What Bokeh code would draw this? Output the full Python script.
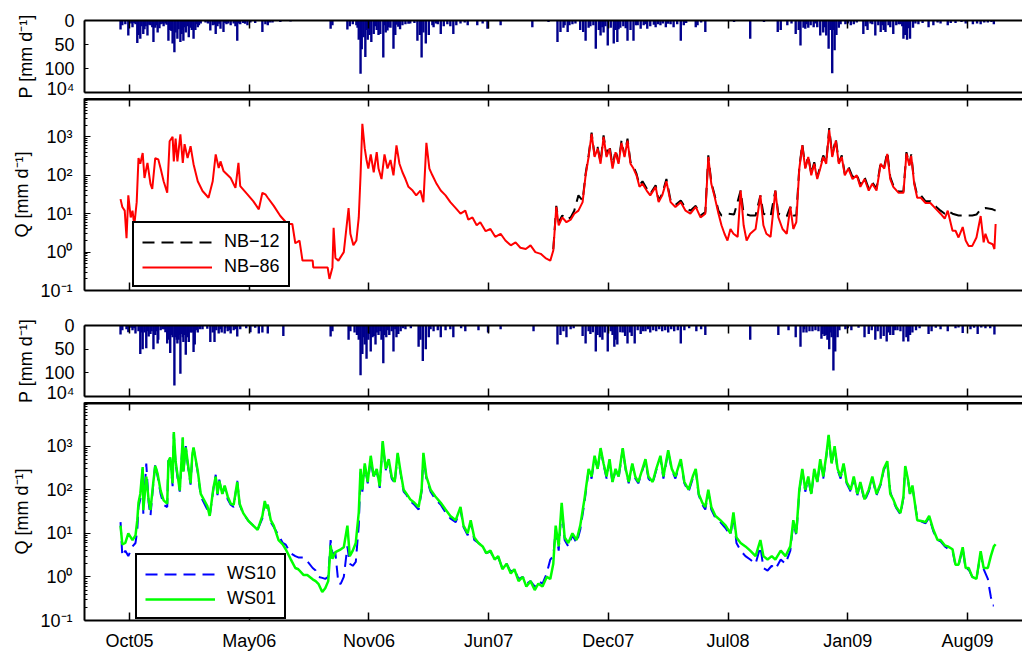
from bokeh.plotting import figure
from bokeh.models import (Range1d, LinearAxis, FixedTicker, CustomJSTickFormatter,
                          CustomLabelingPolicy, Legend, LegendItem)
from bokeh.layouts import column
from bokeh.embed import file_html
from bokeh.resources import INLINE

# ---------------- data (days since 12 Oct 2005) ----------------
tick_days = [0, 200, 400, 600, 800, 1000, 1200, 1400]
tick_labels = ["Oct05", "May06", "Nov06", "Jun07", "Dec07", "Jul08", "Jan09", "Aug09"]

p_nb_day = [-15, -12, -7, -2, 5, 10, 13, 15, 18, 23, 27, 30, 35, 40, 43, 47, 52, 57, 60, 65, 68, 72, 75, 77,
            80, 82, 85, 89, 90, 94, 99, 102, 107, 110, 114, 119, 127, 135, 139, 144, 147, 152, 157, 162, 169,
            174, 180, 185, 190, 197, 202, 222, 227, 231, 239, 252, 269, 336, 339, 364, 368, 373, 379, 383,
            386, 388, 391, 394, 398, 401, 404, 408, 413, 416, 419, 424, 428, 431, 436, 441, 444, 449, 456,
            461, 469, 481, 485, 488, 491, 495, 500, 508, 515, 520, 525, 531, 541, 546, 553, 565, 581, 598,
            620, 673, 715, 720, 725, 732, 735, 753, 758, 762, 767, 779, 784, 787, 792, 799, 804, 809, 815,
            820, 832, 837, 842, 849, 854, 859, 865, 870, 879, 887, 896, 904, 909, 921, 926, 946, 949, 962,
            1037, 1083, 1088, 1099, 1113, 1118, 1121, 1126, 1129, 1134, 1143, 1149, 1154, 1159, 1164, 1168,
            1171, 1174, 1178, 1181, 1185, 1196, 1205, 1210, 1226, 1233, 1241, 1246, 1251, 1255, 1260, 1263,
            1268, 1276, 1281, 1288, 1293, 1296, 1299, 1304, 1309, 1318, 1335, 1343, 1355, 1367, 1380, 1397,
            1409, 1416, 1422, 1434, 1444,
            3, 8, 20, 25, 33, 38, 45, 50, 55, 62, 70, 87, 92, 97, 104, 112, 116, 131, 142, 150, 160, 165, 177,
            183, 193, 210, 235, 381, 396, 410, 426, 433, 446, 452, 466, 476, 506, 512, 536, 560, 590, 700, 727,
            740, 745, 770, 775, 790, 795, 812, 817, 825, 829, 846, 862, 876, 883, 891, 900, 915, 930, 955,
            1010, 1060, 1106, 1131, 1138, 1146, 1162, 1176, 1188, 1200, 1215, 1230, 1238, 1258, 1271, 1285,
            1291, 1302, 1313, 1325, 1350, 1372, 1390, 1428, 1440]
p_nb_mm = [19, 10, 8, 31, 14, 8, 47, 30, 38, 28, 12, 31, 10, 45, 15, 25, 8, 12, 6, 42, 20, 48, 66, 25,
           38, 18, 45, 20, 42, 25, 35, 15, 38, 20, 14, 6, 4, 21, 10, 28, 12, 17, 24, 8, 10,
           6, 42, 8, 5, 10, 4, 24, 8, 10, 4, 3, 2, 17, 10, 19, 12, 8, 10, 40,
           111, 60, 35, 76, 40, 30, 45, 28, 20, 30, 28, 77, 25, 21, 15, 59, 30, 13, 10,
           8, 6, 42, 30, 77, 25, 48, 30, 14, 8, 28, 12, 8, 28, 10, 6, 10, 10, 17,
           10, 14, 45, 24, 15, 24, 10, 20, 24, 42, 15, 59, 20, 31, 25, 52, 15, 48, 45,
           15, 42, 20, 42, 10, 17, 10, 17, 12, 14, 10, 14, 8, 14, 42, 10, 14, 10, 24,
           38, 24, 20, 10, 28, 20, 52, 15, 17, 15, 14, 14, 31, 25, 31, 59,
           20, 110, 62, 30, 15, 8, 10, 8, 28, 20, 8, 31, 10, 24, 20, 24,
           10, 28, 10, 8, 38, 30, 40, 38, 15, 8, 14, 10, 6, 10, 5, 6,
           8, 6, 8, 4, 8,
           6, 5, 12, 18, 9, 14, 10, 16, 7, 9, 22, 28, 14, 12, 20, 8, 10, 6, 9, 7, 5, 6, 12,
           6, 7, 5, 4, 15, 20, 12, 10, 14, 9, 18, 7, 5, 10, 6, 12, 4, 6, 3, 10,
           8, 6, 12, 10, 14, 12, 20, 18, 12, 16, 10, 8, 9, 8, 6, 7, 8, 5, 4,
           3, 3, 6, 8, 10, 6, 14, 20, 8, 6, 4, 12, 6, 10, 14, 8,
           12, 16, 6, 5, 4, 5, 3, 4, 3]

nb86_day = [-15, -12, -8, -5, -2, 2, 5, 8, 12, 15, 18, 22, 25, 30, 35, 38, 43, 48, 52, 57, 63, 67, 72, 74,
            77, 80, 85, 89, 92, 97, 102, 107, 114, 122, 132, 139, 144, 149, 152, 157, 169, 177, 182, 185,
            197, 207, 216, 222, 227, 231, 241, 252, 264, 272, 277, 284, 289, 306, 307, 331, 334, 339, 341,
            344, 349, 358, 366, 369, 374, 379, 383, 386, 389, 393, 396, 399, 403, 408, 413, 416, 421, 426,
            431, 436, 441, 446, 451, 456, 461, 466, 473, 479, 486, 491, 496, 501, 506, 513, 520, 528, 536,
            545, 553, 561, 566, 573, 580, 586, 595, 603, 611, 620, 628, 637, 645, 653, 662, 670, 678, 687,
            695, 703, 708, 713, 717, 723, 730, 737, 743, 750, 757, 762, 767, 772, 777, 782, 787, 792, 797,
            802, 807, 812, 817, 822, 827, 832, 837, 842, 847, 852, 857, 864, 870, 879, 884, 890, 897, 904,
            912, 921, 929, 937, 946, 954, 962, 967, 972, 977, 984, 989, 994, 999, 1004, 1009, 1016, 1021,
            1026, 1031, 1037, 1046, 1054, 1059, 1064, 1071, 1079, 1084, 1091, 1098, 1104, 1109, 1114, 1119,
            1124, 1129, 1134, 1139, 1144, 1149, 1154, 1159, 1164, 1169, 1174, 1180, 1185, 1190, 1195, 1201,
            1208, 1215, 1221, 1228, 1235, 1241, 1248, 1255, 1261, 1266, 1271, 1276, 1285, 1293, 1298, 1303,
            1306, 1311, 1316, 1322, 1330, 1338, 1348, 1355, 1362, 1367, 1375, 1380, 1385, 1392, 1397, 1402,
            1408, 1415, 1422, 1427, 1430, 1435, 1442, 1445, 1447]
nb86_q = [24, 15, 12, 2.3, 30, 8, 12, 5, 20, 280, 200, 380, 85, 210, 60, 44, 280, 260, 150, 70, 35, 770, 1000, 230,
          900, 230, 1170, 210, 650, 280, 570, 195, 70, 39, 26, 70, 350, 155, 230, 130, 85, 47, 210, 52,
          32, 21, 13, 35, 32, 26, 16, 8.7, 5.4, 5.4, 1.7, 2.0, 0.6, 0.6, 0.4, 0.4, 0.2, 0.4, 4.3,
          0.7, 0.6, 1.0, 14, 3, 1.5, 2, 8, 100, 2200, 500, 250, 150, 350, 120, 400, 150, 80, 350,
          150, 250, 100, 600, 200, 120, 80, 50, 40, 30, 40, 20, 700, 150, 100, 60, 40, 30, 20,
          14, 10, 12, 7, 8, 5, 6, 3.5, 4, 2.5, 3, 2, 1.5, 1.8, 1.3, 1.2, 1.5, 1.0, 0.9,
          0.7, 0.6, 1.1, 15, 5, 8, 6, 7, 10, 12, 20, 100, 300, 1200, 300, 500, 200, 1000, 300,
          500, 150, 400, 200, 700, 300, 800, 200, 150, 100, 50, 60, 40, 30, 50, 20, 30, 70, 20,
          15, 20, 12, 10, 15, 8, 10, 300, 60, 30, 10, 5, 3, 2, 4, 3, 2.5, 40,
          5, 2, 3, 4, 30, 5, 3, 2.5, 40, 8, 4, 3, 15, 4, 6, 150,
          600, 150, 300, 100, 200, 80, 150, 300, 200, 1500, 300, 800, 200, 300, 100, 150,
          80, 100, 50, 80, 40, 60, 40, 200, 150, 360, 80, 50, 35, 35, 370, 178,
          320, 60, 26, 26, 19, 19, 13, 10, 7.4, 12, 3.6, 3.6, 2.4, 4.5, 2.0, 1.45,
          1.45, 2.4, 8.7, 1.8, 3.0, 1.8, 1.6, 1.2, 5.4]

nb12_day = [708, 713, 717, 723, 730, 737, 743, 750, 757, 762, 767, 772, 777, 782, 787, 792, 797, 802, 807,
            812, 817, 822, 827, 832, 837, 842, 847, 852, 857, 864, 870, 879, 884, 890, 897, 904, 912, 921,
            929, 937, 946, 954, 962, 967, 972, 977, 984, 989, 1000, 1010, 1021, 1026, 1037, 1046, 1054,
            1059, 1071, 1079, 1084, 1098, 1104, 1109, 1114, 1119, 1124, 1129, 1134, 1139, 1144, 1149, 1154,
            1159, 1164, 1169, 1174, 1180, 1185, 1190, 1195, 1201, 1208, 1215, 1221, 1228, 1235, 1241, 1248,
            1255, 1261, 1266, 1271, 1276, 1285, 1293, 1298, 1303, 1306, 1311, 1316, 1322, 1330, 1338, 1348,
            1355, 1362, 1367, 1375, 1385, 1397, 1408, 1415, 1422, 1430, 1442, 1447]
nb12_q = [1.2, 16, 6, 9, 7, 8, 12, 30, 22, 110, 330, 1300, 330, 550, 220, 1100, 330, 600, 170,
          450, 220, 800, 330, 900, 220, 170, 110, 55, 70, 45, 33, 55, 22, 33, 80, 22, 17, 22,
          14, 12, 16, 9, 11, 330, 65, 33, 12, 9, 10, 9.5, 40, 10, 9, 9, 30,
          10, 8.5, 40, 10, 8.5, 15, 9, 9, 160, 650, 160, 320, 110, 220, 90, 170,
          330, 220, 1700, 330, 900, 220, 330, 110, 170, 90, 110, 55, 90, 45, 65, 45,
          220, 170, 400, 90, 55, 38, 38, 400, 190, 350, 65, 30, 30, 21, 21, 15,
          12, 10, 12, 10, 9, 9, 9, 9.5, 13, 14, 13, 12]

p_ws_day = [-15, -12, -5, -2, 5, 10, 15, 18, 22, 25, 28, 32, 37, 40, 43, 47, 48, 55, 63, 65, 68, 72, 75, 79,
            80, 84, 85, 89, 90, 94, 97, 99, 102, 107, 109, 114, 122, 135, 139, 142, 149, 154, 159, 164, 169,
            174, 180, 185, 202, 216, 222, 231, 257, 336, 339, 366, 369, 376, 383, 386, 389, 393, 396, 399,
            403, 406, 411, 416, 421, 424, 429, 434, 441, 446, 453, 461, 483, 486, 490, 495, 500, 508, 520,
            528, 541, 561, 583, 599, 620, 675, 715, 720, 730, 737, 757, 762, 767, 779, 786, 790, 799, 804,
            810, 815, 824, 832, 839, 844, 854, 862, 870, 880, 890, 900, 910, 921, 927, 947, 962, 1037, 1084,
            1101, 1113, 1121, 1126, 1131, 1141, 1151, 1156, 1161, 1166, 1169, 1173, 1176, 1179, 1183, 1196,
            1206, 1228, 1235, 1246, 1255, 1260, 1265, 1271, 1276, 1283, 1293, 1298, 1301, 1304, 1314, 1335,
            1340, 1355, 1367, 1380, 1392, 1405, 1417, 1430, 1445,
            3, 8, 20, 30, 35, 45, 52, 58, 60, 70, 77, 82, 87, 92, 104, 111, 118, 130, 145, 152, 160, 167, 177,
            195, 210, 380, 391, 401, 408, 413, 419, 426, 432, 438, 444, 449, 457, 470, 503, 515, 536, 554,
            725, 742, 770, 774, 782, 794, 807, 812, 820, 828, 836, 849, 858, 866, 875, 885, 895, 905, 916,
            935, 955, 1127, 1136, 1146, 1158, 1164, 1171, 1186, 1200, 1218, 1240, 1250, 1268, 1279, 1288,
            1308, 1320, 1347, 1385, 1411, 1423, 1438]
p_ws_mm = [19, 10, 8, 14, 10, 17, 12, 60, 50, 15, 48, 23, 12, 50, 20, 38, 30, 8, 38, 30, 58, 25, 127, 30,
           38, 20, 102, 25, 35, 62, 25, 35, 15, 56, 40, 15, 8, 35, 15, 35, 17, 15, 17, 12, 17,
           10, 23, 8, 14, 17, 15, 17, 22, 23, 12, 30, 12, 15, 30, 105, 60, 40, 70, 30,
           55, 25, 40, 20, 30, 80, 25, 20, 55, 25, 12, 8, 45, 30, 75, 50, 25, 12, 25,
           10, 25, 12, 10, 15, 8, 12, 40, 20, 25, 8, 22, 38, 12, 55, 25, 30, 55, 12,
           45, 40, 15, 38, 22, 38, 18, 12, 15, 12, 12, 15, 12, 38, 10, 12, 20, 30, 20,
           10, 25, 45, 15, 15, 12, 12, 28, 22, 30, 50, 25, 95, 55, 25, 8,
           10, 25, 18, 30, 28, 22, 34, 20, 20, 10, 34, 25, 34, 20, 10, 18,
           12, 8, 12, 6, 16, 8, 18, 6, 19,
           5, 6, 15, 12, 18, 12, 10, 8, 14, 20, 25, 30, 18, 20, 15, 10, 8, 7, 10, 8, 6, 10, 8,
           6, 5, 20, 25, 18, 22, 15, 12, 20, 10, 12, 8, 18, 6, 6, 8, 10, 8, 6,
           12, 6, 18, 14, 20, 15, 20, 30, 14, 22, 15, 10, 12, 8, 10, 8, 10, 8, 10,
           6, 8, 8, 12, 10, 18, 20, 15, 10, 6, 5, 10, 12, 15, 10, 12,
           15, 6, 5, 4, 5, 4, 6]

ws01_day = [-15, -12, -7, -2, 5, 10, 13, 15, 18, 22, 23, 28, 32, 35, 40, 43, 47, 52, 57, 63, 65, 68, 72, 74,
            77, 80, 84, 89, 90, 94, 97, 102, 105, 107, 114, 119, 130, 134, 140, 144, 147, 150, 155, 159, 164,
            169, 174, 180, 184, 190, 199, 214, 222, 226, 229, 231, 236, 241, 249, 256, 261, 269, 277, 282,
            291, 297, 306, 311, 316, 322, 327, 332, 336, 339, 344, 353, 358, 364, 368, 373, 378, 383, 386,
            389, 393, 398, 403, 408, 413, 418, 423, 428, 433, 438, 443, 448, 453, 458, 463, 469, 476, 483,
            488, 491, 496, 503, 511, 520, 528, 536, 545, 553, 558, 565, 570, 576, 583, 590, 596, 603, 610,
            616, 623, 630, 637, 643, 650, 657, 663, 670, 677, 683, 690, 697, 703, 708, 712, 717, 722, 727,
            733, 740, 747, 753, 760, 767, 772, 777, 782, 787, 792, 797, 802, 807, 812, 817, 824, 829, 834,
            840, 845, 850, 857, 862, 867, 874, 880, 887, 892, 900, 906, 912, 921, 927, 934, 941, 946, 951,
            957, 962, 967, 972, 979, 987, 996, 1004, 1009, 1014, 1021, 1029, 1037, 1046, 1054, 1059, 1066,
            1073, 1079, 1088, 1096, 1104, 1109, 1114, 1119, 1124, 1129, 1134, 1139, 1144, 1149, 1154, 1159,
            1164, 1168, 1173, 1178, 1183, 1188, 1193, 1198, 1205, 1210, 1216, 1221, 1228, 1235, 1241, 1248,
            1255, 1260, 1266, 1271, 1276, 1281, 1288, 1293, 1296, 1301, 1304, 1308, 1316, 1325, 1330, 1336,
            1343, 1350, 1355, 1362, 1367, 1375, 1380, 1385, 1392, 1397, 1402, 1408, 1415, 1422, 1427, 1434,
            1439, 1444, 1447]
ws01_q = [15, 5.6, 6, 10, 7, 9, 20, 50, 80, 330, 34, 200, 57, 34, 160, 350, 230, 95, 57, 48, 450, 550, 140, 2100,
          450, 230, 95, 1600, 260, 930, 450, 140, 650, 930, 270, 80, 42, 25, 106, 200, 80, 160, 80, 125, 70,
          48, 45, 150, 48, 29, 19, 12, 25, 55, 37, 45, 20, 15, 7, 5.6, 4.3, 2.6, 1.6, 1.5,
          1.1, 1.1, 0.88, 0.8, 0.68, 0.45, 0.55, 0.8, 5.3, 2.6, 3.7, 4.3, 4.8, 15, 3, 4, 6, 30, 300,
          100, 400, 150, 600, 200, 300, 120, 1300, 300, 500, 200, 150, 700, 250, 100, 80, 60, 50, 40,
          100, 700, 200, 100, 70, 50, 35, 25, 20, 40, 15, 10, 20, 8, 6, 5, 3.5, 4, 2.5,
          3, 1.5, 2, 1.2, 1.5, 0.8, 1.0, 0.6, 0.8, 0.5, 0.7, 0.6, 1.0, 0.9, 2, 15, 5, 50, 8,
          6, 10, 7, 15, 60, 300, 200, 600, 300, 900, 400, 200, 500, 150, 300, 200, 900, 300, 150,
          400, 200, 150, 300, 500, 200, 150, 300, 600, 200, 800, 300, 200, 500, 150, 100, 200, 300, 80,
          50, 40, 100, 40, 25, 20, 15, 10, 30, 8, 6, 5, 4, 3, 7, 3, 2.5,
          3, 2.5, 4, 3, 5, 20, 10, 100, 300, 100, 200, 80, 300, 150, 500, 200,
          600, 1800, 400, 1000, 300, 200, 400, 150, 100, 200, 80, 150, 60, 100, 200, 80,
          140, 300, 450, 80, 60, 40, 29, 70, 350, 160, 80, 125, 20, 19, 18, 25,
          12, 7, 7, 5.3, 5, 4.3, 1.9, 1.9, 4.8, 1.6, 1.6, 1.0, 0.9, 3.9, 1.6, 1.6,
          3, 5, 5.6]

ws10_day = [-15, -12, -7, -2, 5, 10, 13, 15, 18, 22, 23, 28, 32, 35, 40, 43, 47, 52, 57, 63, 65, 68, 72, 74,
            77, 80, 84, 89, 90, 94, 97, 102, 105, 107, 114, 119, 130, 134, 140, 144, 147, 150, 155, 159, 164,
            169, 174, 180, 184, 190, 199, 214, 222, 226, 229, 231, 236, 241, 249, 256, 261, 269, 277, 282,
            291, 297, 306, 311, 316, 322, 327, 332, 336, 339, 344, 349, 353, 358, 364, 368, 373, 378, 383,
            386, 389, 393, 398, 403, 408, 413, 418, 423, 428, 433, 438, 443, 448, 453, 458, 463, 469, 476,
            483, 488, 491, 496, 503, 511, 520, 528, 536, 545, 553, 558, 565, 570, 576, 583, 590, 596, 603,
            610, 616, 623, 630, 637, 643, 650, 657, 663, 670, 677, 683, 690, 697, 703, 708, 712, 717, 722,
            727, 733, 740, 747, 753, 760, 767, 772, 777, 782, 787, 792, 797, 802, 807, 812, 817, 824, 829,
            834, 840, 845, 850, 857, 862, 867, 874, 880, 887, 892, 900, 906, 912, 921, 927, 934, 941, 946,
            951, 957, 962, 967, 972, 979, 987, 996, 1004, 1009, 1014, 1021, 1029, 1037, 1046, 1054, 1059,
            1066, 1073, 1079, 1088, 1096, 1104, 1109, 1114, 1119, 1124, 1129, 1134, 1139, 1144, 1149, 1154,
            1159, 1164, 1168, 1173, 1178, 1183, 1188, 1193, 1198, 1205, 1210, 1216, 1221, 1228, 1235, 1241,
            1248, 1255, 1260, 1266, 1271, 1276, 1281, 1288, 1293, 1296, 1301, 1304, 1308, 1316, 1325, 1330,
            1336, 1343, 1350, 1355, 1362, 1367, 1375, 1380, 1385, 1392, 1397, 1402, 1408, 1415, 1422, 1427,
            1434, 1436, 1439, 1442, 1444]
ws10_q = [18, 3.0, 4, 3, 5, 6, 12, 40, 60, 300, 28, 400, 50, 25, 150, 400, 200, 80, 45, 40, 600, 500, 120, 1900,
          400, 200, 90, 1500, 250, 1000, 400, 130, 600, 900, 250, 70, 35, 25, 100, 220, 75, 170, 75, 120, 60,
          45, 40, 160, 45, 28, 19, 12, 22, 50, 35, 45, 18, 14, 9, 6, 5.5, 3.5, 3.0, 2.8,
          2.8, 2.3, 1.6, 1.4, 1.0, 0.95, 0.9, 1.0, 7, 3.5, 3.5, 0.7, 0.7, 1.0, 5, 2, 1.8, 2.2, 15,
          250, 90, 350, 140, 500, 180, 280, 110, 1200, 280, 450, 180, 140, 650, 230, 90, 75, 55, 45,
          35, 90, 600, 180, 90, 60, 45, 30, 22, 18, 35, 14, 9, 18, 7, 6, 5, 3.5, 3.8,
          2.5, 2.8, 1.6, 2, 1.3, 1.5, 0.9, 1.0, 0.7, 0.8, 0.6, 0.8, 0.7, 1.2, 2.5, 3, 12, 4, 40,
          7, 5, 9, 6, 12, 50, 280, 180, 550, 280, 850, 380, 180, 450, 140, 280, 180, 850, 280,
          140, 380, 180, 140, 280, 450, 180, 140, 280, 550, 180, 750, 280, 180, 450, 140, 90, 180, 280,
          75, 45, 35, 90, 35, 22, 18, 13, 9, 25, 6, 4, 3, 2.5, 2, 5, 1.6,
          1.4, 1.8, 1.5, 2.5, 2, 4, 18, 9, 90, 280, 90, 180, 75, 280, 140, 450,
          180, 550, 1700, 380, 950, 280, 180, 380, 140, 90, 180, 75, 140, 55, 90, 180,
          75, 130, 280, 420, 90, 55, 38, 27, 65, 330, 150, 75, 115, 22, 18, 17,
          23, 11, 7, 6.5, 5, 4.5, 4, 1.8, 1.8, 4.5, 1.5, 1.5, 1.0, 0.9, 3.5, 1.5,
          0.9, 0.6, 0.35, 0.22, 0.22]

# ---------------- styling ----------------
FONT = "Liberation Sans"
FS = "18px"
XR = Range1d(-75.2, 1491.9)
SUP = "{'-1':'\u207b\u00b9','0':'\u2070','1':'\u00b9','2':'\u00b2','3':'\u00b3','4':'\u2074'}"
log_major = [0.1, 1, 10, 100, 1000, 10000]
log_minor = [m * 10.0 ** e for e in range(-1, 4) for m in range(2, 10)]

NO_LABELS = "const a = []; for (const i of indices) a.push(i); for (const i of a) indices.unset(i); return indices;"


def x_axis_style(ax, show_labels):
    ax.ticker = FixedTicker(ticks=tick_days)
    ax.major_tick_in = 8
    ax.major_tick_out = 0
    ax.minor_tick_in = 0
    ax.minor_tick_out = 0
    ax.major_tick_line_width = 1.5
    ax.axis_line_width = 2
    ax.axis_line_color = "black"
    if show_labels:
        ax.formatter = CustomJSTickFormatter(args=dict(vals=tick_days, labs=tick_labels),
                                             code="const i = vals.indexOf(tick); return i >= 0 ? labs[i] : '';")
        ax.major_label_text_font = FONT
        ax.major_label_text_font_size = FS
        ax.major_label_standoff = 10
        ax.major_label_text_color = "black"
    else:
        ax.major_label_text_font_size = "0px"
        ax.major_label_standoff = 0
        ax.major_label_policy = CustomLabelingPolicy(code=NO_LABELS)


def make_fig(height, yr, ylog, top, bottom, bottom_labels=False, top_line=2):
    p = figure(width=1022, height=height, x_range=XR, y_range=yr,
               y_axis_type="log" if ylog else "linear",
               output_backend="svg", toolbar_location=None,
               min_border_left=84, min_border_right=0, min_border_top=top, min_border_bottom=bottom,
               outline_line_color=None, background_fill_color="white", border_fill_color="white")
    p.xgrid.visible = False
    p.ygrid.visible = False
    x_axis_style(p.xaxis[0], bottom_labels)
    above = LinearAxis()
    x_axis_style(above, False)
    above.axis_line_width = top_line
    p.add_layout(above, "above")
    ya = p.yaxis[0]
    ya.axis_line_width = 2
    ya.major_label_text_font = FONT
    ya.major_label_text_font_size = FS
    ya.major_label_text_color = "black"
    ya.major_tick_out = 0
    ya.minor_tick_out = 0
    ya.axis_label_text_font = FONT
    ya.axis_label_text_font_size = FS
    ya.axis_label_text_font_style = "normal"
    ya.axis_label_text_color = "black"
    if ylog:
        ya.ticker = FixedTicker(ticks=log_major, minor_ticks=log_minor)
        ya.formatter = CustomJSTickFormatter(
            code="const e = Math.round(Math.log10(tick)); if (e >= 4) return ''; const s = " + SUP +
                 "; return '10' + s[String(e)];")
        ya.major_tick_in = 6
        ya.minor_tick_in = 3
        ya.major_label_standoff = 12
        ya.axis_label = "Q [mm d\u207b\u00b9]"
        ya.axis_label_standoff = 5
    else:
        ya.ticker = FixedTicker(ticks=[0, 50, 100, 150])
        ya.formatter = CustomJSTickFormatter(
            code="return tick >= 150 ? '10\u2074' : String(Math.round(tick));")
        ya.major_tick_in = 4
        ya.minor_tick_in = 0
        ya.major_label_standoff = 10
        ya.axis_label = "P [mm d\u207b\u00b9]"
        ya.axis_label_standoff = 5
    return p


BAR = "#00008c"
BAR_W = 4.0
DASH = "12 7"

# panel 1: precipitation (NB)
f1 = make_fig(98, Range1d(150, 0), False, 20, 6)
f1.vbar(x=p_nb_day, top=p_nb_mm, bottom=0, width=BAR_W, fill_color=BAR, line_color=None)

# panel 2: discharge NB
f2 = make_fig(207, Range1d(0.1, 10000), True, 0, 15, top_line=4)
r12 = f2.line(nb12_day, nb12_q, line_color="black", line_width=2, line_dash=DASH)
r86 = f2.line(nb86_day, nb86_q, line_color="#ff0000", line_width=2)
leg1 = Legend(items=[LegendItem(label="NB\u221212", renderers=[r12]),
                     LegendItem(label="NB\u221286", renderers=[r86])],
              location=(48, 3))

# panel 3: precipitation (WS)
f3 = make_fig(97, Range1d(150, 0), False, 20, 6)
f3.vbar(x=p_ws_day, top=p_ws_mm, bottom=0, width=BAR_W, fill_color=BAR, line_color=None)

# panel 4: discharge WS
f4 = make_fig(251, Range1d(0.1, 10000), True, 0, 28, bottom_labels=True, top_line=4)
r10 = f4.line(ws10_day, ws10_q, line_color="#0000ff", line_width=2, line_dash=DASH)
r01 = f4.line(ws01_day, ws01_q, line_color="#00ff00", line_width=2.5)
leg2 = Legend(items=[LegendItem(label="WS10", renderers=[r10]),
                     LegendItem(label="WS01", renderers=[r01])],
              location=(51, 1))

for lg in [leg1, leg2]:
    lg.border_line_color = "black"
    lg.border_line_width = 2
    lg.border_line_alpha = 1.0
    lg.background_fill_color = "white"
    lg.background_fill_alpha = 1.0
    lg.label_text_font = FONT
    lg.label_text_font_size = FS
    lg.label_text_color = "black"
    lg.glyph_width = 70
    lg.glyph_height = 20
    lg.label_height = 20
    lg.label_standoff = 12
    lg.padding = 8
    lg.spacing = 4
    lg.margin = 0
f2.add_layout(leg1)
f4.add_layout(leg2)

layout = column(f1, f2, f3, f4, spacing=0)
open("out.html", "w").write(file_html(layout, INLINE))
